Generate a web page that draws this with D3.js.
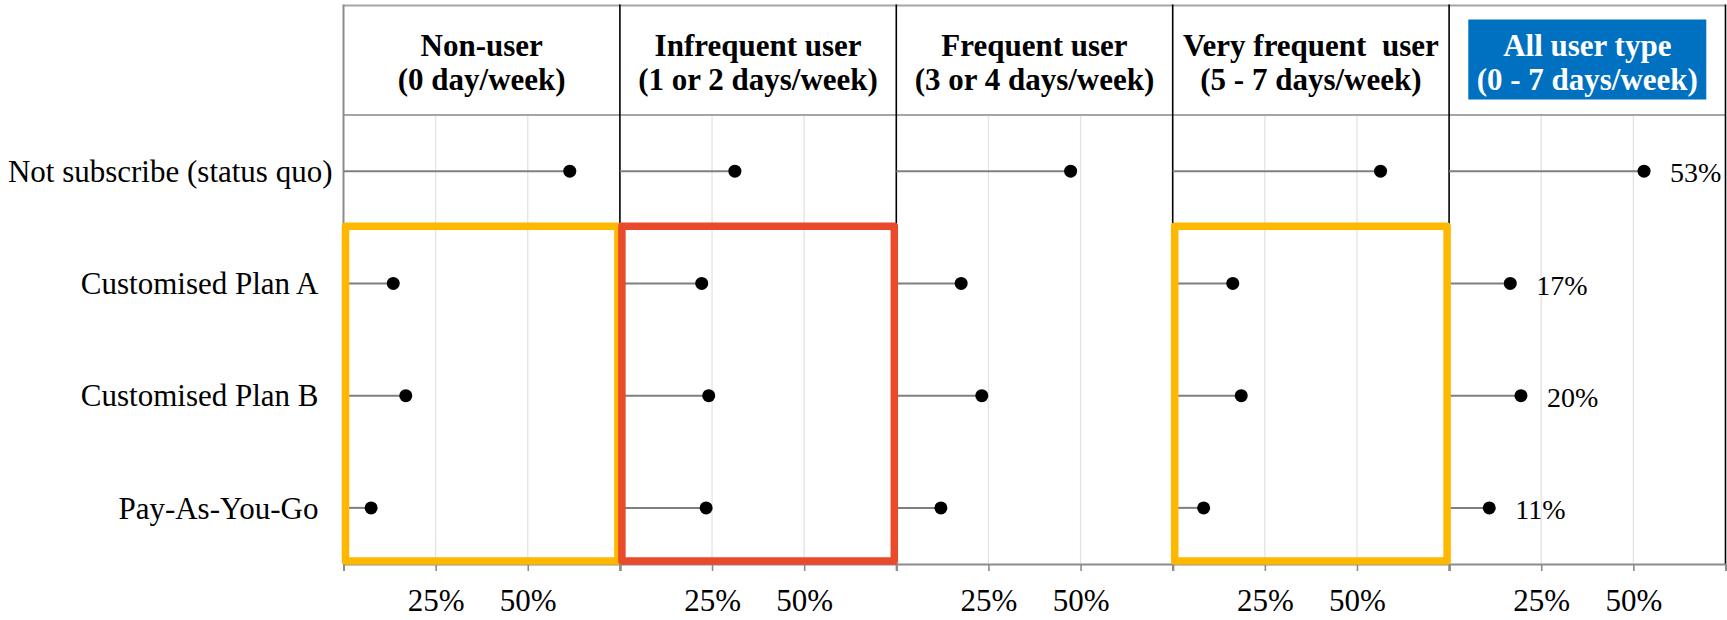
<!DOCTYPE html>
<html>
<head>
<meta charset="utf-8">
<script src="https://cdn.jsdelivr.net/npm/d3@7"></script>
<style>
  html, body { margin: 0; padding: 0; background: #fff; }
  svg { display: block; }
  text { font-family: "Liberation Serif", "Times New Roman", serif; white-space: pre; }
</style>
</head>
<body>
<svg id="chart" width="1727" height="620"></svg>
<script>
// ---------- data ----------
const categories = ["Not subscribe (status quo)", "Customised Plan A", "Customised Plan B", "Pay-As-You-Go"];
const panelTitleLine1 = ["Non-user", "Infrequent user", "Frequent user", "Very frequent  user", "All user type"];
const panelTitleLine2 = ["(0 day/week)", "(1 or 2 days/week)", "(3 or 4 days/week)", "(5 - 7 days/week)", "(0 - 7 days/week)"];
const nonUser      = [0.614, 0.135, 0.169, 0.075];
const infrequent   = [0.312, 0.222, 0.241, 0.234];
const frequent     = [0.473, 0.176, 0.232, 0.121];
const veryFrequent = [0.564, 0.163, 0.186, 0.084];
const allUsers     = [0.529, 0.166, 0.195, 0.109];
const tickValues = [0.25, 0.5];
const tickLabels = ["25%", "50%"];
const highlightPanels = [0, 1, 3];
const highlightColors = ["#FFB800", "#E84A2B", "#FFB800"];
const highlightRows = ["Customised Plan A", "Customised Plan B", "Pay-As-You-Go"];

const seriesByPanel = [nonUser, infrequent, frequent, veryFrequent, allUsers];

// ---------- layout ----------
const svg = d3.select("#chart");
const left = 343.5, right = 1725.5;
const headerTop = 5.5, headerBottom = 115, plotBottom = 564;
const nP = seriesByPanel.length;

const panelBand = d3.scaleBand().domain(d3.range(nP)).range([left, right]).padding(0);
const y = d3.scaleBand().domain(categories).range([headerBottom, plotBottom]).padding(0);
const xFor = i => d3.scaleLinear().domain([0, 0.75]).range([panelBand(i), panelBand(i) + panelBand.bandwidth()]);

const FS = 31;
const gridColor = "#e3e3e3";
const frameGrey = "#a6a6a6";

// gridlines
for (let i = 0; i < nP; i++) {
  const x = xFor(i);
  svg.append("g").selectAll("line").data(tickValues).join("line")
    .attr("x1", d => x(d)).attr("x2", d => x(d))
    .attr("y1", headerBottom).attr("y2", plotBottom)
    .attr("stroke", gridColor).attr("stroke-width", 1.3);
}

// header lines
svg.append("line").attr("x1", left).attr("x2", right).attr("y1", headerTop).attr("y2", headerTop)
  .attr("stroke", frameGrey).attr("stroke-width", 2);
svg.append("line").attr("x1", left).attr("x2", right).attr("y1", headerBottom).attr("y2", headerBottom)
  .attr("stroke", frameGrey).attr("stroke-width", 2);

// left border (grey)
svg.append("line").attr("x1", left).attr("x2", left).attr("y1", headerTop - 1).attr("y2", plotBottom)
  .attr("stroke", "#8c8c8c").attr("stroke-width", 2);

// separators (black)
for (let i = 1; i <= nP; i++) {
  const xs = i < nP ? panelBand(i) : right;
  svg.append("line").attr("x1", xs).attr("x2", xs).attr("y1", headerTop - 1).attr("y2", plotBottom)
    .attr("stroke", "#000").attr("stroke-width", 1.6);
}

// bottom axes
for (let i = 0; i < nP; i++) {
  const x = xFor(i);
  const axis = d3.axisBottom(x).tickValues([0, 0.25, 0.5, 0.75]).tickSize(7)
    .tickFormat(d => { const k = tickValues.indexOf(d); return k >= 0 ? tickLabels[k] : ""; });
  const g = svg.append("g").attr("transform", `translate(0,${plotBottom})`).call(axis);
  g.select(".domain").attr("stroke", "#8c8c8c").attr("stroke-width", 2);
  g.selectAll(".tick line").attr("stroke", "#8c8c8c").attr("stroke-width", 1.6);
  g.selectAll(".tick text").attr("font-size", FS).attr("fill", "#000").attr("dy", 0).attr("y", 47);
}

// row labels
const labelGap = [11, 25, 25, 25];
svg.append("g").selectAll("text").data(categories).join("text")
  .attr("x", (d, k) => left - labelGap[k])
  .attr("y", d => y(d) + y.bandwidth() / 2)
  .attr("dy", "0.35em")
  .attr("text-anchor", "end").attr("font-size", FS).attr("fill", "#000")
  .text(d => d);

// lollipops
for (let i = 0; i < nP; i++) {
  const x = xFor(i);
  const vals = seriesByPanel[i];
  const g = svg.append("g");
  g.selectAll("line").data(categories).join("line")
    .attr("x1", x(0)).attr("x2", (d, k) => x(vals[k]))
    .attr("y1", d => y(d) + y.bandwidth() / 2).attr("y2", d => y(d) + y.bandwidth() / 2)
    .attr("stroke", "#7f7f7f").attr("stroke-width", 2);
  g.selectAll("circle").data(categories).join("circle")
    .attr("cx", (d, k) => x(vals[k])).attr("cy", d => y(d) + y.bandwidth() / 2)
    .attr("r", 6.5).attr("fill", "#000");
}

// value labels on last panel
{
  const i = nP - 1, x = xFor(i), vals = seriesByPanel[i];
  svg.append("g").selectAll("text").data(categories).join("text")
    .attr("x", (d, k) => x(vals[k]) + 26)
    .attr("y", d => y(d) + y.bandwidth() / 2)
    .attr("dy", "0.4em")
    .attr("font-size", 28).attr("fill", "#000")
    .text((d, k) => d3.format(".0%")(vals[k]));
}

// header titles
for (let i = 0; i < nP; i++) {
  const cx = panelBand(i) + panelBand.bandwidth() / 2;
  const isAll = i === nP - 1;
  const g = svg.append("g");
  if (isAll) {
    g.append("rect").attr("x", cx - 119).attr("y", 19.5).attr("width", 238).attr("height", 80)
      .attr("fill", "#0070C0");
  }
  g.append("text").attr("x", cx).attr("y", 56).attr("text-anchor", "middle")
    .attr("font-weight", "bold").attr("font-size", FS).attr("fill", isAll ? "#fff" : "#000")
    .text(panelTitleLine1[i]);
  g.append("text").attr("x", cx).attr("y", 90).attr("text-anchor", "middle")
    .attr("font-weight", "bold").attr("font-size", FS).attr("fill", isAll ? "#fff" : "#000")
    .text(panelTitleLine2[i]);
}

// highlight boxes
const sw = 7.5;
highlightPanels.forEach((p, j) => {
  const x0 = panelBand(p), x1 = panelBand(p) + panelBand.bandwidth();
  const y0 = y(highlightRows[0]), y1 = plotBottom;
  svg.append("rect")
    .attr("x", x0 + 2).attr("y", y0 - 1)
    .attr("width", x1 - x0 - 4).attr("height", y1 - y0 - 2)
    .attr("fill", "none").attr("stroke", highlightColors[j]).attr("stroke-width", sw)
    .attr("stroke-linejoin", "round");
});
</script>
</body>
</html>
